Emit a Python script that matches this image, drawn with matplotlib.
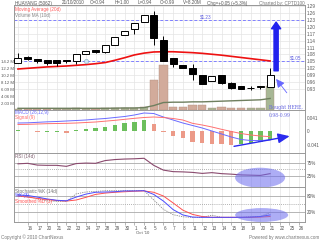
import matplotlib
matplotlib.use('Agg')
import matplotlib.pyplot as plt
from matplotlib.patches import Ellipse
import numpy as np

# ---------------- data ----------------
dates = ['15', '16', '17', '20', '21', '22', '23', '24', '27', '28', '29', '30', '1', '4', '5',
         '6', '7', '8', '11', '12', '13', '14', '15', '18', '19', '20', '21', '22', '25', '26']
opens = [1.045, 1.07, 1.06, 1.055, 1.055, 1.055, 1.05, 1.08, 1.10, 1.09, 1.12, 1.165, 1.19, 1.22,
         1.25, 1.145, 1.065, 1.035, 1.02, 0.99, 0.965, 0.99, 0.955, 0.945, 0.935, 0.94, 0.94]
closes = [1.065, 1.06, 1.05, 1.045, 1.045, 1.05, 1.08, 1.095, 1.09, 1.12, 1.155, 1.18, 1.215, 1.25,
          1.15, 1.05, 1.04, 1.02, 0.995, 0.95, 0.985, 0.955, 0.935, 0.93, 0.935, 0.94, 0.99]
highs = [1.085, 1.075, 1.06, 1.055, 1.055, 1.055, 1.08, 1.095, 1.10, 1.12, 1.155, 1.18, 1.215, 1.25,
         1.27, 1.16, 1.065, 1.035, 1.04, 0.99, 0.985, 0.99, 0.96, 0.945, 0.945, 0.945, 1.02]
lows = [1.045, 1.055, 1.045, 1.035, 1.03, 1.045, 1.04, 1.08, 1.085, 1.085, 1.12, 1.165, 1.17, 1.22,
        1.12, 1.05, 1.025, 1.02, 0.97, 0.95, 0.965, 0.95, 0.93, 0.93, 0.925, 0.93, 0.94]
volume_m = [0.4, 0.3, 0.3, 0.3, 0.2, 0.2, 0.5, 0.4, 0.3, 0.5, 0.6, 0.5, 0.7, 0.9,
            8.8, 13.2, 0.9, 0.9, 1.5, 1.5, 0.6, 0.9, 0.7, 0.7, 0.5, 0.6, 7.1]
ma20 = [1.017, 1.020, 1.023, 1.026, 1.028, 1.030, 1.033, 1.036, 1.040, 1.045, 1.055, 1.066, 1.078,
        1.086, 1.091, 1.092, 1.092, 1.090, 1.088, 1.085, 1.081, 1.077, 1.072, 1.067, 1.062, 1.057, 1.052]
vol_ma10 = [0.5, 0.5, 0.5, 0.5, 0.5, 0.5, 0.5, 0.5, 0.5, 0.5, 0.55, 0.6, 0.6, 0.7,
            1.3, 2.2, 2.3, 2.3, 2.4, 2.4, 2.5, 2.6, 2.7, 2.8, 2.9, 3.0, 3.4]
macd = [0.0255, 0.026, 0.0275, 0.029, 0.030, 0.0315, 0.033, 0.0345, 0.037, 0.039, 0.042, 0.045,
        0.0495, 0.0555, 0.054, 0.0435, 0.0345, 0.0255, 0.018, 0.0105, 0.0015, -0.0075, -0.0165,
        -0.024, -0.027, -0.027, -0.0255]
signal = [0.021, 0.0215, 0.0225, 0.0235, 0.024, 0.0245, 0.0255, 0.027, 0.0285, 0.031, 0.0335,
          0.0365, 0.0395, 0.042, 0.0435, 0.042, 0.039, 0.0345, 0.0245, 0.0195, 0.0135, 0.0065,
          0.0, -0.006, -0.0105, -0.0135, -0.0155]
hist = [0.0045, 0.002, -0.001, -0.001, -0.001, -0.004, 0.004, 0.007, 0.010, 0.013, 0.019, 0.025,
        0.029, 0.034, 0.022, -0.001, -0.013, -0.020, -0.031, -0.036, -0.037, -0.038, -0.040,
        -0.038, -0.036, -0.032, -0.025]
rsi = [72, 74, 67, 66, 66, 62, 73, 75, 74, 85, 89, 91, 92, 94, 66, 47, 41, 40, 38, 34, 37, 33,
       31, 28, 27, 26, 33]
stoch_raw = [85, 78, 70, 62, 60, 60, 88, 95, 97, 100, 100, 100, 100, 100, 65, 30, 10, 2, 0, 0,
             8, 0, 0, 0, 2, 3, 18]
stoch_k = [84, 82, 76, 69, 64, 62, 76, 87, 94, 95, 96, 99, 99, 100, 86, 61, 29, 9, 1, 0, 0, 0,
           0, 0, 1, 3, 9]
stoch_d = [80, 76, 71, 67, 63, 61, 65, 75, 86, 91, 94, 96, 98, 99, 94, 80, 54, 27, 11, 3, 0, 0,
           0, 0, 0, 1, 3]
price_ticks = [0.93, 0.96, 0.99, 1.02, 1.05, 1.08, 1.11, 1.14, 1.17, 1.20, 1.23, 1.26, 1.29]
vol_ticks = [2.03, 4.06, 6.09, 8.12, 10.15, 12.18, 14.21]
vol_tick_labels = ['2.03 M', '4.06 M', '6.09 M', '8.12 M', '10.2 M', '12.2 M', '14.2 M']
levels = [1.23, 1.05]

# ---------------- figure ----------------
plt.rcParams['font.family'] = ['Liberation Sans', 'DejaVu Sans']
W, H = 320, 240
fig = plt.figure(figsize=(3.2, 2.4), dpi=100)
fig.patch.set_facecolor('white')
XL, XR = 14, 305
FS = 3.3
TXT = '#555555'
GRID = '#e4e4e4'


def panel(top, bot):
    return fig.add_axes([XL / W, 1 - bot / H, (XR - XL) / W, (bot - top) / H])


ax_v = panel(5, 110)
ax_p = ax_v.twinx()
ax_m = panel(110, 153)
ax_r = panel(153, 187)
ax_s = panel(187, 222)

n = len(closes)
idx = np.arange(n)
xlim = (-0.41, 29.6)
for a in (ax_v, ax_p, ax_m, ax_r, ax_s):
    a.set_xlim(*xlim)
    for s in a.spines.values():
        s.set_color('#999999')
        s.set_linewidth(0.7)
    a.tick_params(axis='both', length=0, labelsize=FS, colors=TXT, pad=1.2)
    a.set_xticks([])
for a in (ax_v, ax_m, ax_r, ax_s):
    for i in range(len(dates)):
        a.axvline(i, color=GRID, lw=0.5, zorder=0)

# ---- volume (left axis) ----
ax_v.set_ylim(0, 30.9)
ax_v.set_yticks(vol_ticks)
ax_v.set_yticklabels(vol_tick_labels)
ax_v.tick_params(axis='y', labelsize=3.1, pad=0.3)
vcols = []
for i in range(n):
    up = closes[i] >= (closes[i - 1] if i > 0 else opens[i])
    vcols.append('#a7b795' if up else '#d2ab9b')
ax_v.bar(idx, volume_m, width=0.85, color=vcols, edgecolor='#b09080', linewidth=0.3, zorder=2)
ax_v.plot(idx, vol_ma10, color='#6f7f5f', lw=1.0, zorder=3)

# ---- price (right axis) ----
ax_p.set_ylim(0.8387, 1.2952)
ax_p.set_yticks(price_ticks)
ax_p.set_yticklabels(['%.2f' % t for t in price_ticks])
ax_p.tick_params(axis='y', length=0, labelsize=FS, colors=TXT, pad=1.2)
for t in price_ticks:
    ax_v.axhline((t - 0.8387) / (1.2952 - 0.8387) * 30.9, color=GRID, lw=0.5, zorder=0)
for lv in levels:
    ax_p.axhline(lv, color='#8080ff', lw=0.7, ls=(0, (3, 2)), zorder=1)
ax_p.text(18.8, 1.23 + 0.004, '$1.23', color='#6060e0', fontsize=FS, va='bottom', ha='left')
ax_p.text(28.0, 1.05 + 0.004, '$1.05', color='#6060e0', fontsize=FS, va='bottom', ha='left')
ax_p.plot(idx, ma20, color='#ee1111', lw=1.2, zorder=3)
for i in range(n):
    o, c = opens[i], closes[i]
    ax_p.vlines(i, lows[i], highs[i], color='black', lw=0.7, zorder=4)
    bot = min(o, c)
    h = max(abs(c - o), 0.0015)
    fc = 'white' if c >= o else 'black'
    ax_p.bar(i, h, bottom=bot, width=0.72, color=fc, edgecolor='black', linewidth=0.7, zorder=5)
ax_p.plot([7], [1.05], marker='o', ms=3, mfc='#cfe6f5', mec='#8ab', mew=0.4, zorder=6)

# big arrow and pointer arrow
ax_p.annotate('', xy=(26.62, 1.233), xytext=(26.62, 0.997),
              arrowprops=dict(arrowstyle='simple,head_width=1.1,head_length=0.8,tail_width=0.5',
                              fc='#2222ee', ec='#2222ee', mutation_scale=6), zorder=7)
ax_p.annotate('', xy=(26.45, 0.983), xytext=(27.9, 0.904),
              arrowprops=dict(arrowstyle='-|>,head_width=0.25,head_length=0.5',
                              color='#6666ff', lw=0.6), zorder=7)

# ---- MACD ----
ax_m.set_ylim(-0.0645, 0.0645)
ax_m.set_yticks([-0.041, 0, 0.041])
ax_m.set_yticklabels(['-0.041', '0', '0.041'])
ax_m.yaxis.tick_right()
hcols = []
for i in range(n):
    inc = hist[i] >= (hist[i - 1] if i > 0 else 0)
    hcols.append('#6cbf5c' if inc else '#ec9a88')
ax_m.bar(idx, hist, width=0.45, color=hcols, zorder=2)
ax_m.plot(idx, macd, color='#6a6aff', lw=0.7, zorder=3)
ax_m.plot(idx, signal, color='#ff7070', lw=0.7, zorder=3)
ax_m.annotate('', xy=(28.3, -0.0125), xytext=(22.0, -0.046),
              arrowprops=dict(arrowstyle='-|>,head_width=0.3,head_length=0.7',
                              color='#2a2aee', lw=1.0), zorder=5)

# ---- RSI ----
ax_r.set_ylim(-20, 115)
ax_r.set_yticks([25, 75])
ax_r.set_yticklabels(['25%', '75%'])
ax_r.yaxis.tick_right()
ax_r.axhline(75, color='#aaaaaa', lw=0.6, zorder=1)
ax_r.axhline(25, color='#aaaaaa', lw=0.6, zorder=1)
ax_r.axhline(50, color='#999999', lw=0.6, ls=(0, (1, 1.5)), zorder=1)
ax_r.plot(idx, rsi, color='#8a4a6e', lw=0.8, zorder=3)
ax_r.add_patch(Ellipse((24.97, 17), 5.16, 79, facecolor='#6a6aee', alpha=0.55,
                       edgecolor='none', clip_on=False, zorder=6))

# ---- Stochastic ----
ax_s.set_ylim(-17.5, 113.8)
ax_s.set_yticks([20, 80])
ax_s.set_yticklabels(['20%', '80%'])
ax_s.yaxis.tick_right()
ax_s.axhline(80, color='#aaaaaa', lw=0.6, zorder=1)
ax_s.axhline(20, color='#aaaaaa', lw=0.6, zorder=1)
ax_s.axhline(50, color='#999999', lw=0.6, ls=(0, (1, 1.5)), zorder=1)
ax_s.plot(idx, stoch_raw, color='#888888', lw=0.6, ls=(0, (1.5, 1.2)), zorder=3)
ax_s.plot(idx, stoch_d, color='#ff5050', lw=0.7, zorder=3)
ax_s.plot(idx, stoch_k, color='#4a4aff', lw=0.7, zorder=4)
ax_s.add_patch(Ellipse((25.13, 8.7), 5.47, 52, facecolor='#6a6aee', alpha=0.55,
                       edgecolor='none', clip_on=False, zorder=6))

# x axis labels
ax_s.set_xticks(range(1, len(dates)))
ax_s.set_xticklabels(dates[1:], ha='left')
ax_s.tick_params(axis='x', length=2.5, width=0.5, color='#999999', labelsize=FS, colors=TXT, pad=0.2)
fig.text(135.5 / W, 1 - 233.5 / H, "Oct '10", fontsize=3.1, color=TXT, ha='left', va='center')

# ---- panel labels ----
def ftxt(x, y, s, c, **kw):
    fig.text(x / W, 1 - y / H, s, fontsize=FS, color=c, va='center', ha=kw.pop('ha', 'left'), **kw)


ftxt(15, 3, 'HUAYANG (5062)', TXT)
ftxt(62, 3, '21/10/2010', TXT)
ftxt(90, 3, 'O=0.94', TXT)
ftxt(115, 3, 'H=1.00', TXT)
ftxt(138, 3, 'L=0.94', TXT)
ftxt(160, 3, 'C=0.99', TXT)
ftxt(183, 3, 'V=8.20M', TXT)
ftxt(207, 3, 'Chg=+0.05 (+5.3%)', TXT)
ftxt(305, 3, 'Charted by: CPTD100', '#777777', ha='right')
ftxt(15, 10, 'Moving Average (20d)', '#ff5a5a')
ftxt(15, 15, 'Volume MA (10d)', '#888888')
ftxt(15, 112.5, 'MACD (26,12,9)', '#6a6aff')
ftxt(15, 118, 'Signal (9)', '#ff6a6a')
ftxt(15, 156.5, 'RSI (14d)', '#806070')
ftxt(15, 191, 'Stochastic %K (14d)', '#707070')
ftxt(15, 196, '%K (3)', '#4a4aff')
ftxt(15, 201, 'Smoothed %D (3)', '#ff5050')
ftxt(269, 108, 'Bought HERE,', '#6a6ae0', family='DejaVu Serif')
ftxt(269, 115.5, '0.98-0.99', '#6a6ae0', family='DejaVu Serif')
ftxt(1, 237.5, 'Copyright \u00a9 2010 ChartNexus', '#777777')
ftxt(319, 237.5, 'Powered by www.chartnexus.com', '#777777', ha='right')

fig.savefig('out.png', dpi=100, facecolor='white')
